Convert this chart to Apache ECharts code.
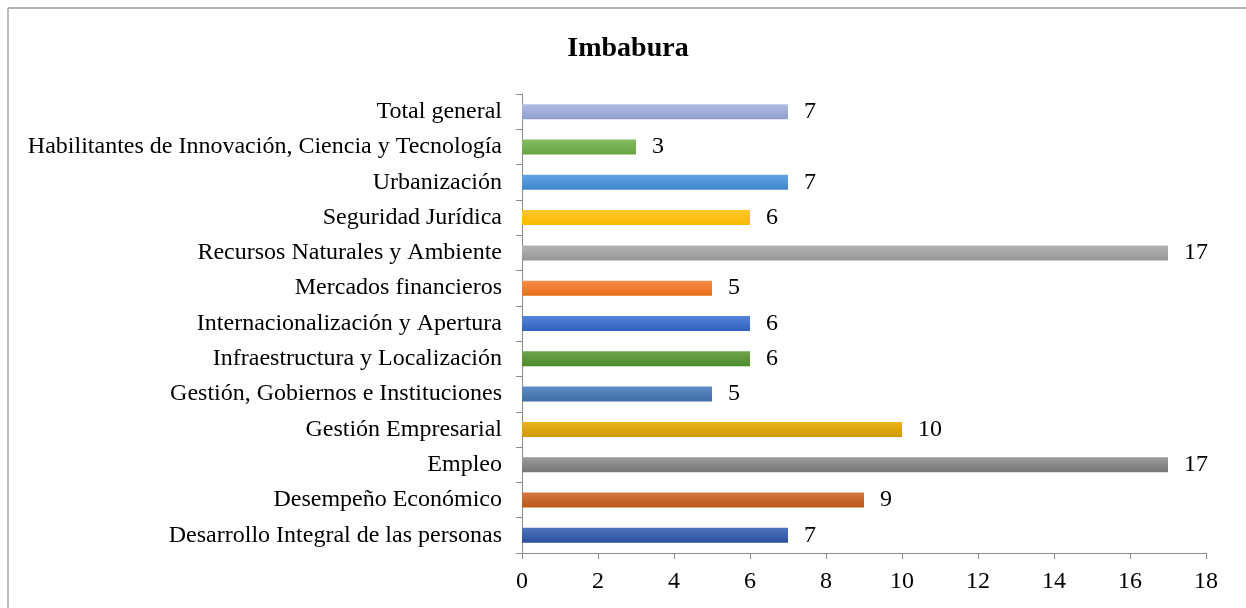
<!DOCTYPE html>
<html>
<head>
<meta charset="utf-8">
<script src="https://cdn.jsdelivr.net/npm/echarts@6/dist/echarts.min.js"></script>
<style>
html,body{margin:0;padding:0;background:#fff;}
#chart{width:1246px;height:608px;}
</style>
</head>
<body>
<div id="chart"></div>
<script>
const title = 'Imbabura';
const categories = [
  'Desarrollo Integral de las personas',
  'Desempeño Económico',
  'Empleo',
  'Gestión Empresarial',
  'Gestión, Gobiernos e Instituciones',
  'Infraestructura y Localización',
  'Internacionalización y Apertura',
  'Mercados financieros',
  'Recursos Naturales y Ambiente',
  'Seguridad Jurídica',
  'Urbanización',
  'Habilitantes de Innovación, Ciencia y Tecnología',
  'Total general'
];
const values = [7, 9, 17, 10, 5, 6, 6, 5, 17, 6, 7, 3, 7];
const xTicks = [0, 2, 4, 6, 8, 10, 12, 14, 16, 18];

// bar colour gradients: [top, bottom]
const barColors = [
  ['#4d74bd', '#2a4f9c'],
  ['#d4773f', '#b9571a'],
  ['#9c9c9c', '#767676'],
  ['#ebb31a', '#cf9a00'],
  ['#5d8cc4', '#3d6ea6'],
  ['#6fa44f', '#4c8a2a'],
  ['#5583d9', '#3162bd'],
  ['#f68d4a', '#e76d1a'],
  ['#b3b3b3', '#969696'],
  ['#ffc72c', '#fbba00'],
  ['#62a5e3', '#3f86ce'],
  ['#84bd62', '#66a442'],
  ['#b0bee4', '#8e9dcc']
];

const chart = echarts.init(document.getElementById('chart'));
const font = '"Liberation Serif", "Times New Roman", serif';

chart.setOption({
  animation: false,
  backgroundColor: '#fff',
  textStyle: { fontFamily: font },
  title: {
    text: title,
    left: 623,
    textAlign: 'center',
    top: 30,
    textStyle: { fontFamily: font, fontSize: 28, fontWeight: 'bold', color: '#000' }
  },
  graphic: [
    { type: 'line', shape: { x1: 8, y1: 8, x2: 1246, y2: 8 }, style: { stroke: '#9a9a9a', lineWidth: 1.5 } },
    { type: 'line', shape: { x1: 8, y1: 8, x2: 8, y2: 608 }, style: { stroke: '#a6a6a6', lineWidth: 1.5 } }
  ],
  grid: { left: 522, right: 40, top: 94, bottom: 55, containLabel: false },
  xAxis: {
    type: 'value',
    min: xTicks[0],
    max: xTicks[xTicks.length - 1],
    interval: 2,
    axisLine: { show: true, lineStyle: { color: '#8c8c8c', width: 1 } },
    axisTick: { show: true, length: 6, lineStyle: { color: '#8c8c8c' } },
    splitLine: { show: false },
    axisLabel: { fontFamily: font, fontSize: 24, color: '#000', margin: 17 }
  },
  yAxis: {
    type: 'category',
    data: categories,
    axisLine: { show: true, lineStyle: { color: '#8c8c8c', width: 1 } },
    axisTick: { show: true, length: 6, alignWithLabel: false, lineStyle: { color: '#8c8c8c' } },
    axisLabel: { fontFamily: font, fontSize: 24, color: '#000', margin: 20 }
  },
  series: [{
    type: 'bar',
    barWidth: 15,
    data: values.map((v, i) => ({
      value: v,
      itemStyle: {
        color: new echarts.graphic.LinearGradient(0, 0, 0, 1, [
          { offset: 0, color: barColors[i][0] },
          { offset: 1, color: barColors[i][1] }
        ])
      }
    })),
    label: {
      show: true,
      position: 'right',
      distance: 16,
      fontFamily: font,
      fontSize: 24,
      color: '#000'
    }
  }]
});
</script>
</body>
</html>
